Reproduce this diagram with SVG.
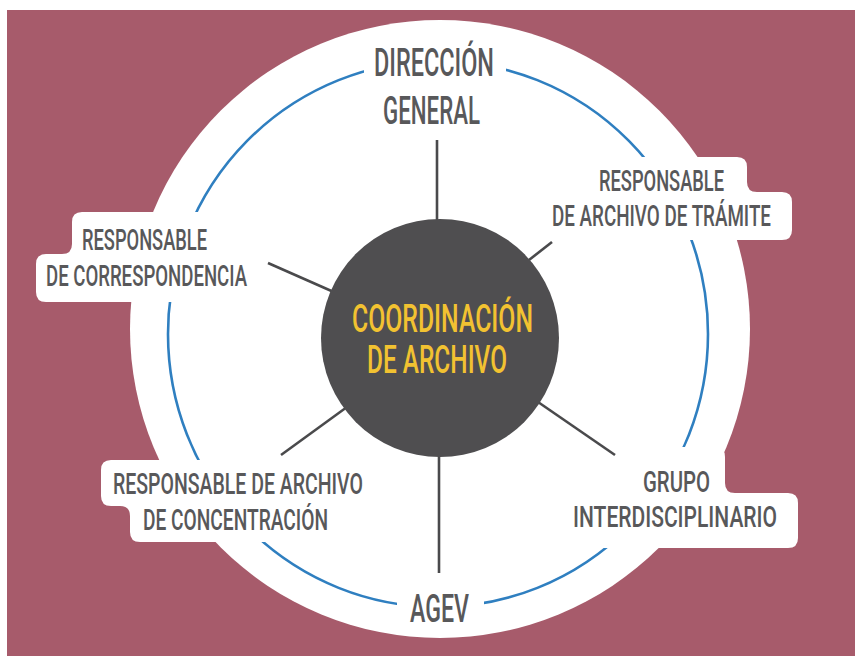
<svg xmlns="http://www.w3.org/2000/svg" width="855" height="656" viewBox="0 0 855 656">
<style>
.box{fill:#ffffff;stroke:none}
.lbl{font-family:Roboto,"Liberation Sans",sans-serif;font-weight:500;fill:#58585a}
.big{font-size:38px}
.sm{font-size:30px}
.ctr{font-family:Roboto,"Liberation Sans",sans-serif;font-weight:500;font-size:38px;fill:#f2c231}
.conn{stroke:#4a4a4c;stroke-width:2.6;fill:none;stroke-linecap:butt}
</style>
<rect x="0" y="0" width="855" height="656" fill="#ffffff"/>
<rect x="7" y="10" width="848" height="646" fill="#a75b6b"/>
<ellipse cx="440" cy="329" rx="310" ry="309" fill="#ffffff"/>
<ellipse id="ring" cx="438" cy="334" rx="270" ry="273" fill="none" stroke="#2f7fc0" stroke-width="2.6"/>

<g id="connectors">
<line class="conn" x1="437" y1="140" x2="437" y2="221"/>
<line class="conn" x1="529" y1="260" x2="552" y2="242"/>
<line class="conn" x1="268" y1="263" x2="336" y2="293"/>
<line class="conn" x1="347" y1="407" x2="281" y2="455"/>
<line class="conn" x1="538" y1="402" x2="615" y2="455"/>
<line class="conn" x1="439" y1="455" x2="439" y2="573"/>
</g>

<g id="node-direccion">
<rect class="box" x="364" y="38" width="142" height="94" rx="10"/>
<text class="lbl big" x="374" y="75.5" textLength="120" lengthAdjust="spacingAndGlyphs">DIRECCIÓN</text>
<text class="lbl big" x="383" y="124" textLength="97" lengthAdjust="spacingAndGlyphs">GENERAL</text>
</g>

<g id="node-tramite">
<path class="box" d="M566,157 H737 Q747,157 747,167 V182 Q747,192 757,192 H782 Q792,192 792,202 V230 Q792,240 782,240 H566 Q556,240 556,230 V167 Q556,157 566,157 Z"/>
<text class="lbl sm" x="599" y="190.5" textLength="125" lengthAdjust="spacingAndGlyphs">RESPONSABLE</text>
<text class="lbl sm" x="552" y="226" textLength="219" lengthAdjust="spacingAndGlyphs">DE ARCHIVO DE TRÁMITE</text>
</g>

<g id="node-correspondencia">
<path class="box" d="M82,212 H248 Q258,212 258,222 V292 Q258,302 248,302 H46 Q36,302 36,292 V264 Q36,254 46,254 H62 Q72,254 72,244 V222 Q72,212 82,212 Z"/>
<text class="lbl sm" x="82" y="250" textLength="125" lengthAdjust="spacingAndGlyphs">RESPONSABLE</text>
<text class="lbl sm" x="46" y="286" textLength="201" lengthAdjust="spacingAndGlyphs">DE CORRESPONDENCIA</text>
</g>

<g id="node-concentracion">
<path class="box" d="M111,460 H365 Q375,460 375,470 V532 Q375,542 365,542 H140 Q130,542 130,532 V516 Q130,506 120,506 H111 Q101,506 101,496 V470 Q101,460 111,460 Z"/>
<text class="lbl sm" x="113" y="493.5" textLength="250" lengthAdjust="spacingAndGlyphs">RESPONSABLE DE ARCHIVO</text>
<text class="lbl sm" x="143" y="529.5" textLength="185" lengthAdjust="spacingAndGlyphs">DE CONCENTRACIÓN</text>
</g>

<g id="node-grupo">
<path class="box" d="M632,447 H715 Q725,447 725,457 V483 Q725,493 735,493 H788 Q798,493 798,503 V538 Q798,548 788,548 H570 Q560,548 560,538 V503 Q560,493 570,493 H612 Q622,493 622,483 V457 Q622,447 632,447 Z"/>
<text class="lbl sm" x="643" y="491.5" textLength="67" lengthAdjust="spacingAndGlyphs">GRUPO</text>
<text class="lbl sm" x="573" y="527" textLength="204" lengthAdjust="spacingAndGlyphs">INTERDISCIPLINARIO</text>
</g>

<g id="node-agev">
<rect class="box" x="397" y="580" width="87" height="50" rx="10"/>
<text class="lbl big" x="410" y="621.5" textLength="59" lengthAdjust="spacingAndGlyphs">AGEV</text>
</g>

<g id="node-coordinacion">
<circle cx="440" cy="338" r="119" fill="#4f4e50"/>
<text class="ctr" x="352" y="332" textLength="181" lengthAdjust="spacingAndGlyphs">COORDINACIÓN</text>
<text class="ctr" x="367" y="373" textLength="140" lengthAdjust="spacingAndGlyphs">DE ARCHIVO</text>
</g>
</svg>
